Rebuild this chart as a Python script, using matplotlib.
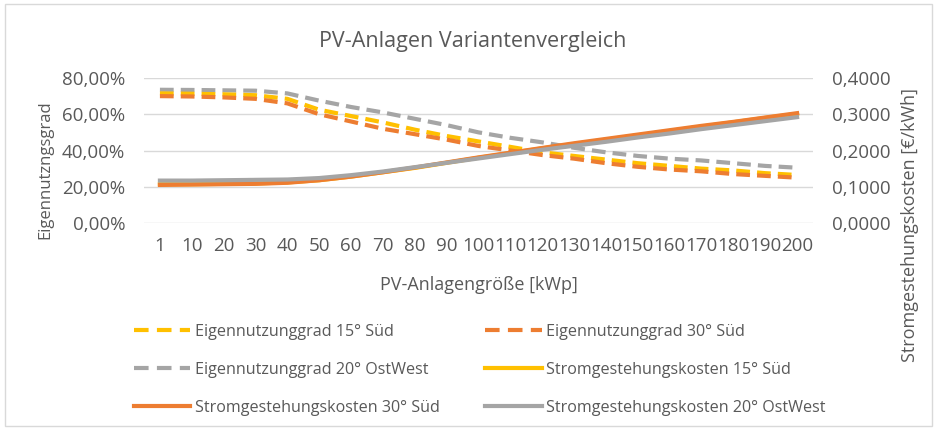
import matplotlib.pyplot as plt
from matplotlib.lines import Line2D
from matplotlib.patches import Rectangle
from matplotlib.ticker import FuncFormatter

sizes = ["1", "10", "20", "30", "40", "50", "60", "70", "80", "90", "100",
         "110", "120", "130", "140", "150", "160", "170", "180", "190", "200"]

# Eigennutzungsgrad in %
eg_15 = [71.5, 71.3, 71.0, 70.5, 68.5, 62.5, 59.0, 55.5, 51.5, 48.0, 45.0,
         42.0, 39.0, 37.0, 35.0, 33.0, 31.5, 30.0, 29.0, 27.5, 26.5]
eg_30 = [70.0, 69.8, 69.3, 68.5, 66.0, 60.0, 56.0, 52.0, 49.0, 46.0, 42.5,
         40.0, 37.5, 35.5, 33.0, 31.0, 29.5, 28.5, 27.0, 26.0, 25.0]
eg_ow = [73.5, 73.4, 73.2, 73.0, 71.5, 67.5, 64.0, 61.0, 57.5, 54.0, 50.0,
         47.0, 44.5, 41.5, 39.0, 37.0, 35.5, 34.5, 33.0, 31.5, 30.5]

# Stromgestehungskosten in EUR/kWh
sk_15 = [0.107, 0.107, 0.108, 0.109, 0.112, 0.118, 0.128, 0.140, 0.152, 0.166, 0.180,
         0.193, 0.206, 0.218, 0.230, 0.242, 0.254, 0.266, 0.278, 0.290, 0.301]
sk_30 = [0.105, 0.106, 0.107, 0.108, 0.111, 0.118, 0.128, 0.140, 0.153, 0.167, 0.181,
         0.194, 0.207, 0.220, 0.232, 0.244, 0.256, 0.268, 0.279, 0.291, 0.303]
sk_ow = [0.117, 0.117, 0.118, 0.119, 0.120, 0.124, 0.132, 0.142, 0.154, 0.166, 0.178,
         0.190, 0.202, 0.213, 0.224, 0.236, 0.247, 0.259, 0.270, 0.281, 0.292]

YEL, ORA, GRY = "#FFC000", "#ED7D31", "#A5A5A5"
TXT = "#595959"
plt.rcParams["font.family"] = ["Open Sans", "DejaVu Sans"]

W, H = 938, 429
fig = plt.figure(figsize=(W/100, H/100), dpi=100)
fig.patches.append(Rectangle((5/W, 3/H), 927/W, 422/H, transform=fig.transFigure,
                             fill=False, edgecolor="#D9D9D9", linewidth=1))
ax = fig.add_axes([144/W, 1-223/H, (813-144)/W, (223-78)/H])
ax2 = ax.twinx()
x = list(range(len(sizes)))

dash = (0, (3.3, 1.7))
ax.plot(x, eg_ow, color=GRY, lw=3, linestyle=dash, zorder=2)
ax.plot(x, eg_15, color=YEL, lw=3, linestyle=dash, zorder=3)
ax.plot(x, eg_30, color=ORA, lw=3, linestyle=dash, zorder=3)
ax2.plot(x, sk_15, color=YEL, lw=3)
ax2.plot(x, sk_30, color=ORA, lw=3)
ax2.plot(x, sk_ow, color=GRY, lw=3)

ax.set_xlim(-0.5, len(sizes)-0.5)
ax.set_ylim(0, 80)
ax2.set_ylim(0, 0.4)
ax.set_yticks([0, 20, 40, 60, 80])
ax2.set_yticks([0, 0.1, 0.2, 0.3, 0.4])
ax.yaxis.set_major_formatter(FuncFormatter(lambda v, p: f"{v:.2f}%".replace(".", ",")))
ax2.yaxis.set_major_formatter(FuncFormatter(lambda v, p: f"{v:.4f}".replace(".", ",")))
ax.set_xticks(x)
ax.set_xticklabels(sizes)
ax.grid(axis="y", color="#D9D9D9", lw=1)
ax.set_axisbelow(True)
for a in (ax, ax2):
    for s in a.spines.values():
        s.set_visible(False)
    a.tick_params(length=0, labelsize=13.5, colors=TXT)
ax.tick_params(axis="x", pad=10)
ax.tick_params(axis="y", pad=13.5)
ax2.tick_params(axis="y", pad=13.5)

ax.set_xlabel("PV-Anlagengröße [kWp]", fontsize=13, color=TXT, labelpad=15)
fig.text(45/W, 1-170/H, "Eigennutzngsgrad", rotation=90, ha="center", va="center",
         fontsize=12, color=TXT)
fig.text(910/W, 1-225/H, "Stromgestehungskosten [€/kWh]", rotation=90, ha="center",
         va="center", fontsize=13, color=TXT)
fig.text(0.5 + 4/W, 1-41/H, "PV-Anlagen Variantenvergleich", ha="center", va="center",
         fontsize=15.5, color=TXT)

handles = [
    Line2D([], [], color=YEL, lw=3, linestyle=(0, (3.5, 2))),
    Line2D([], [], color=GRY, lw=3, linestyle=(0, (3.5, 2))),
    Line2D([], [], color=ORA, lw=3),
    Line2D([], [], color=ORA, lw=3, linestyle=(0, (3.5, 2))),
    Line2D([], [], color=YEL, lw=3),
    Line2D([], [], color=GRY, lw=3),
]
labels = ["Eigennutzunggrad 15° Süd", "Eigennutzunggrad 20° OstWest",
          "Stromgestehungskosten 30° Süd", "Eigennutzunggrad 30° Süd",
          "Stromgestehungskosten 15° Süd", "Stromgestehungskosten 20° OstWest"]
fig.legend(handles, labels, ncol=2, loc="upper left", bbox_to_anchor=(134/W, 1-324/H),
           frameon=False, fontsize=11.6, labelcolor=TXT, handlelength=3.5,
           handletextpad=0.3, columnspacing=2.8, labelspacing=1.35,
           borderpad=0, borderaxespad=0)

fig.savefig("out.png", dpi=100)
